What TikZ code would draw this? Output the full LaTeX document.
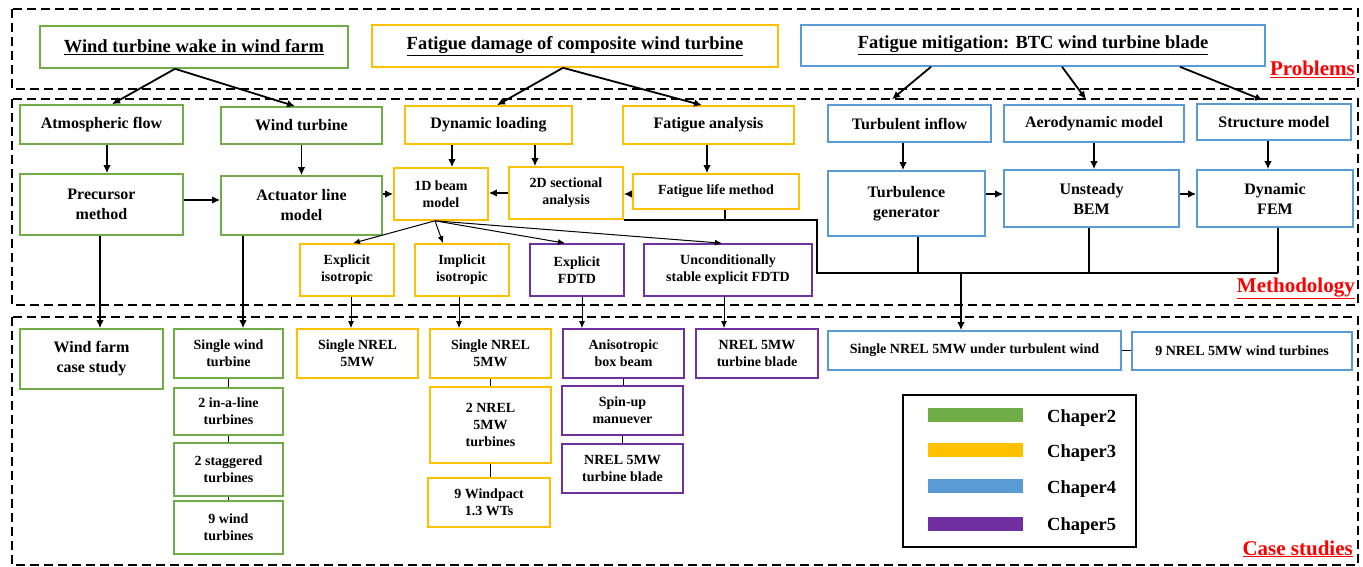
\documentclass[tikz,border=0pt]{standalone}
\usepackage{fontspec}
\setmainfont{Liberation Serif}
\usetikzlibrary{arrows.meta}
\definecolor{ChGreen}{RGB}{112, 173, 71}
\definecolor{ChYellow}{RGB}{255, 192, 0}
\definecolor{ChBlue}{RGB}{91, 155, 213}
\definecolor{ChPurple}{RGB}{112, 48, 160}
\begin{document}
\begin{tikzpicture}[x=1pt, y=-1pt]
        \tikzstyle{box} = [rectangle, line width=1.6pt, fill=white, align=center, inner sep=0pt]
        \tikzstyle{gbox} = [box, draw=ChGreen]
        \tikzstyle{ybox} = [box, draw=ChYellow]
        \tikzstyle{bbox} = [box, draw=ChBlue]
        \tikzstyle{pbox} = [box, draw=ChPurple]
        \tikzstyle{big} = [font=\fontsize{18.5}{22}\selectfont\bfseries]
        \tikzstyle{mid} = [font=\fontsize{16}{20}\selectfont\bfseries]
        \tikzstyle{sml} = [font=\fontsize{14}{17}\selectfont\bfseries]
        \tikzstyle{frame} = [draw, line width=1.8pt, dash pattern=on 9pt off 5pt]
        \tikzstyle{tag} = [text=red, font=\fontsize{21}{25}\selectfont\bfseries, inner sep=0pt, anchor=base east]
        \tikzstyle{arrow} = [-{Latex[length=8pt, width=7.5pt]}, line width=1.8pt]
        \tikzstyle{thinarrow} = [-{Latex[length=7pt, width=6pt]}, line width=1pt]
        \tikzstyle{link} = [line width=1.8pt]

        \useasboundingbox (0,0) rectangle (1363,567);

        % Frames
        \draw [frame] (12,9) rectangle (1358,89);
        \draw [frame] (12,99) rectangle (1358,305);
        \draw [frame] (12,317) rectangle (1358,565);
        \node (probtag) [tag] at (1355,76) {\underline{Problems}};
        \node (methtag) [tag] at (1355,292) {\underline{Methodology}};
        \node (casetag) [tag] at (1353,555) {\underline{Case studies}};

        % Problems
        \node (wake) [gbox, big, minimum width=308pt, minimum height=42pt] at (194,47) {\underline{Wind turbine wake in wind farm}};
        \node (damage) [ybox, big, minimum width=406pt, minimum height=42pt] at (575,46) {\underline{Fatigue damage of composite wind turbine}};
        \node (mitig) [bbox, big, minimum width=464pt, minimum height=41pt] at (1033,45.5) {\underline{Fatigue mitigation: BTC wind turbine blade}};

        % Methodology
        \node (atmos) [gbox, mid, minimum width=163pt, minimum height=39pt] at (101.5,124.5) {Atmospheric flow};
        \node (windt) [gbox, mid, minimum width=161pt, minimum height=37pt] at (301.5,125.5) {Wind turbine};
        \node (dynload) [ybox, mid, minimum width=167pt, minimum height=38pt] at (488.5,125) {Dynamic loading};
        \node (fatana) [ybox, mid, minimum width=171pt, minimum height=38pt] at (708.5,125) {Fatigue analysis};
        \node (turbin) [bbox, mid, minimum width=163pt, minimum height=37pt] at (909.5,123.5) {Turbulent inflow};
        \node (aero) [bbox, mid, minimum width=180pt, minimum height=37pt] at (1094,123.5) {Aerodynamic model};
        \node (struct) [bbox, mid, minimum width=154pt, minimum height=36pt] at (1274,122) {Structure model};

        \node (precursor) [gbox, mid, minimum width=163pt, minimum height=61pt] at (101.5,204.5) {Precursor\\method};
        \node (actuator) [gbox, mid, minimum width=161pt, minimum height=59pt] at (301.5,205.5) {Actuator line\\model};
        \node (beam) [ybox, sml, minimum width=94pt, minimum height=52pt] at (441,194) {1D beam\\model};
        \node (sect) [ybox, sml, minimum width=114pt, minimum height=52pt] at (566,193) {2D sectional\\analysis};
        \node (fatlife) [ybox, sml, minimum width=166pt, minimum height=35pt] at (716,191.5) {Fatigue life method};
        \node (turbgen) [bbox, mid, minimum width=157pt, minimum height=65pt] at (906.5,203.5) {Turbulence\\generator};
        \node (ubem) [bbox, mid, minimum width=175pt, minimum height=57pt] at (1091.5,198.5) {Unsteady\\BEM};
        \node (dfem) [bbox, mid, minimum width=156pt, minimum height=57pt] at (1275,198.5) {Dynamic\\FEM};

        \node (expiso) [ybox, sml, minimum width=94pt, minimum height=52pt] at (347,270) {Explicit\\isotropic};
        \node (impiso) [ybox, sml, minimum width=94pt, minimum height=52pt] at (462,270) {Implicit\\isotropic};
        \node (expfdtd) [pbox, sml, minimum width=94pt, minimum height=52pt] at (577,270) {Explicit\\FDTD};
        \node (uncond) [pbox, sml, minimum width=168pt, minimum height=52pt] at (728,270) {Unconditionally\\stable explicit FDTD};

        % Case studies
        \node (farm) [gbox, mid, minimum width=143pt, minimum height=60pt] at (91.5,359) {Wind farm\\case study};
        \node (cs1) [gbox, sml, minimum width=109pt, minimum height=49pt] at (228.5,353.5) {Single wind\\turbine};
        \node (cs2) [gbox, sml, minimum width=109pt, minimum height=47pt] at (228.5,411.5) {2 in-a-line\\turbines};
        \node (cs3) [gbox, sml, minimum width=109pt, minimum height=53pt] at (228.5,469.5) {2 staggered\\turbines};
        \node (cs4) [gbox, sml, minimum width=109pt, minimum height=53pt] at (228.5,527.5) {9 wind\\turbines};
        \node (nrelA) [ybox, sml, minimum width=121pt, minimum height=49pt] at (357.5,353.5) {Single NREL\\5MW};
        \node (nrelB) [ybox, sml, minimum width=121pt, minimum height=49pt] at (490.5,353.5) {Single NREL\\5MW};
        \node (twonrel) [ybox, sml, minimum width=121pt, minimum height=76pt] at (490.5,425) {2 NREL\\5MW\\turbines};
        \node (windpact) [ybox, sml, minimum width=122pt, minimum height=49pt] at (489,502.5) {9 Windpact\\1.3 WTs};
        \node (aniso) [pbox, sml, minimum width=121pt, minimum height=49pt] at (623.5,353.5) {Anisotropic\\box beam};
        \node (spinup) [pbox, sml, minimum width=121pt, minimum height=49pt] at (622.5,410.5) {Spin-up\\manuever};
        \node (bladeA) [pbox, sml, minimum width=121pt, minimum height=49pt] at (622.5,468.5) {NREL 5MW\\turbine blade};
        \node (bladeB) [pbox, sml, minimum width=122pt, minimum height=49pt] at (757,353.5) {NREL 5MW\\turbine blade};
        \node (turbwind) [bbox, sml, minimum width=293pt, minimum height=39pt] at (974.5,350.5) {Single NREL 5MW under turbulent wind};
        \node (ninenrel) [bbox, sml, minimum width=220pt, minimum height=38pt] at (1242,351) {9 NREL 5MW wind turbines};

        % Legend
        \node (legend) [draw, line width=1.6pt, minimum width=233pt, minimum height=152pt] at (1019.5,471) {};
        \node (bar2) [fill=ChGreen, minimum width=95pt, minimum height=14pt, inner sep=0pt] at (975.5,414.5) {};
        \node (bar3) [fill=ChYellow, minimum width=95pt, minimum height=14pt, inner sep=0pt] at (975.5,450) {};
        \node (bar4) [fill=ChBlue, minimum width=95pt, minimum height=14pt, inner sep=0pt] at (975.5,486) {};
        \node (bar5) [fill=ChPurple, minimum width=95pt, minimum height=14pt, inner sep=0pt] at (975.5,523.5) {};
        \node (lab2) [big, anchor=base west, inner sep=0pt] at (1047,422) {Chaper2};
        \node (lab3) [big, anchor=base west, inner sep=0pt] at (1047,457) {Chaper3};
        \node (lab4) [big, anchor=base west, inner sep=0pt] at (1047,493) {Chaper4};
        \node (lab5) [big, anchor=base west, inner sep=0pt] at (1047,530) {Chaper5};

        % Arrows from problems
        \draw [arrow] ([xshift=-19pt]wake.south) -- ([xshift=10.5pt]atmos.north);
        \draw [arrow] ([xshift=-19pt]wake.south) -- ([xshift=-6.5pt]windt.north);
        \draw [arrow] ([xshift=-12pt]damage.south) -- ([xshift=8.5pt]dynload.north);
        \draw [arrow] ([xshift=-12pt]damage.south) -- ([xshift=-6.5pt]fatana.north);
        \draw [arrow] ([xshift=-102pt]mitig.south) -- ([xshift=-17.5pt, yshift=5pt]turbin.north);
        \draw [arrow] ([xshift=29pt]mitig.south) -- ([xshift=-8pt, yshift=5pt]aero.north);
        \draw [arrow] ([xshift=147pt]mitig.south) -- ([xshift=-11pt, yshift=3pt]struct.north);

        % Arrows in methodology
        \draw [arrow] ([xshift=5.5pt]atmos.south) -- ([xshift=5.5pt]precursor.north);
        \draw [arrow] (windt.south) -- (windt.south |- actuator.north);
        \draw [arrow] ([xshift=11pt]beam.north |- dynload.south) -- ([xshift=11pt]beam.north);
        \draw [arrow] ([xshift=-31pt]sect.north |- dynload.south) -- ([xshift=-31pt]sect.north);
        \draw [arrow] ([xshift=-1.5pt]fatana.south) -- ([xshift=-1.5pt]fatana.south |- fatlife.north);
        \draw [arrow] ([xshift=-3.5pt]turbgen.north |- turbin.south) -- ([xshift=-3.5pt]turbgen.north);
        \draw [arrow] (aero.south) -- (aero.south |- ubem.north);
        \draw [arrow] ([xshift=-6pt]struct.south) -- ([xshift=-6pt]struct.south |- dfem.north);

        \draw [arrow] ([yshift=4.5pt]precursor.east) -- ([yshift=4.5pt]precursor.east -| actuator.west);
        \draw [arrow] (beam.west -| actuator.east) -- (beam.west);
        \draw [arrow] (sect.west) -- (sect.west -| beam.east);
        \draw [arrow] ([yshift=-2.5pt]fatlife.west) -- ([yshift=-2.5pt]fatlife.west -| sect.east);
        \draw [arrow] ([yshift=4.5pt]ubem.west -| turbgen.east) -- ([yshift=4.5pt]ubem.west);
        \draw [arrow] ([yshift=4.5pt]ubem.east) -- ([yshift=4.5pt]ubem.east -| dfem.west);

        % Beam model branches
        \draw [thinarrow] ([xshift=-6pt]beam.south) -- ([xshift=6pt]expiso.north);
        \draw [thinarrow] ([xshift=-6pt]beam.south) -- ([xshift=-19pt]impiso.north);
        \draw [thinarrow] ([xshift=-6pt]beam.south) -- ([xshift=-12pt]expfdtd.north);
        \draw [thinarrow] ([xshift=-6pt]beam.south) -- ([xshift=-6pt]uncond.north);

        % Collecting line
        \coordinate (busL) at (817,273);
        \draw [link] (sect.south east) -| (busL) -- ([xshift=3pt]busL -| dfem.south);
        \draw [link] ([xshift=9pt]fatlife.south) -- ([xshift=9pt]fatlife.south |- sect.south east);
        \draw [link] ([xshift=11.5pt]turbgen.south) -- ([xshift=11.5pt]turbgen.south |- busL);
        \draw [link] ([xshift=-2.5pt]ubem.south) -- ([xshift=-2.5pt]ubem.south |- busL);
        \draw [link] ([xshift=3pt]dfem.south) -- ([xshift=3pt]dfem.south |- busL);
        \draw [arrow] ([xshift=-13.5pt]turbwind.north |- busL) -- ([xshift=-13.5pt]turbwind.north);

        % Arrows to case studies
        \draw [arrow] ([xshift=-1.5pt]precursor.south) -- ([xshift=-1.5pt]precursor.south |- farm.north);
        \draw [arrow] ([xshift=14.5pt]cs1.north |- actuator.south) -- ([xshift=14.5pt]cs1.north);
        \draw [thinarrow] ([xshift=4pt]expiso.south) -- ([xshift=4pt]expiso.south |- nrelA.north);
        \draw [thinarrow] ([xshift=-3pt]impiso.south) -- ([xshift=-3pt]impiso.south |- nrelB.north);
        \draw [thinarrow] ([xshift=5pt]expfdtd.south) -- ([xshift=5pt]expfdtd.south |- aniso.north);
        \draw [thinarrow] ([xshift=-4pt]uncond.south) -- ([xshift=-4pt]uncond.south |- bladeB.north);

        % Links between case boxes
        \draw [link] (cs1.south) -- (cs2.north);
        \draw [link] (cs2.south) -- (cs3.north);
        \draw [link] (cs3.south) -- (cs4.north);
        \draw [link] (nrelB.south) -- (twonrel.north);
        \draw [link] (twonrel.south) -- (twonrel.south |- windpact.north);
        \draw [link] (aniso.south) -- (aniso.south |- spinup.north);
        \draw [link] (spinup.south) -- (bladeA.north);
        \draw [link] (turbwind.east) -- (turbwind.east -| ninenrel.west);
    \end{tikzpicture}
\end{document}
